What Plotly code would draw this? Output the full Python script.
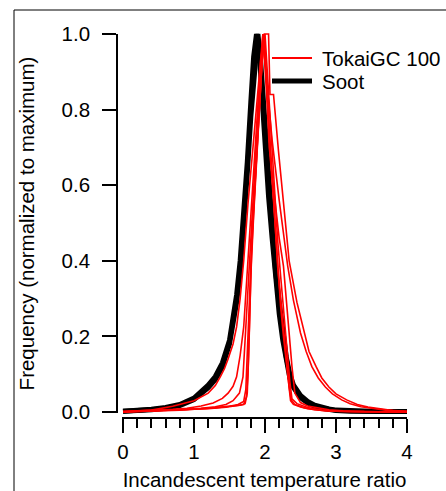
import plotly.graph_objects as go

# Incandescent temperature ratio histograms, normalized to their maxima

# Soot reference distributions
soot_a_x = [0, 0.2, 0.4, 0.6, 0.8, 1.0, 1.1, 1.2, 1.3, 1.4, 1.5, 1.55, 1.6, 1.65, 1.7, 1.75, 1.8, 1.85,
            1.87, 1.9, 1.93, 1.96, 2.0, 2.05, 2.1, 2.15, 2.2, 2.25, 2.3, 2.35, 2.4, 2.5, 2.6, 2.7, 2.8,
            2.9, 3.0, 3.2, 3.4, 3.6, 3.8, 4.0]
soot_a_y = [0.002, 0.003, 0.006, 0.010, 0.017, 0.033, 0.047, 0.064, 0.086, 0.12, 0.18, 0.23, 0.29, 0.37,
            0.49, 0.63, 0.78, 0.91, 0.96, 1.0, 0.95, 0.87, 0.74, 0.61, 0.50, 0.37, 0.29, 0.21, 0.145,
            0.10, 0.072, 0.044, 0.028, 0.018, 0.012, 0.008, 0.005, 0.003, 0.002, 0.001, 0.001, 0.001]

soot_b_x = [0, 0.2, 0.4, 0.6, 0.8, 1.0, 1.1, 1.2, 1.3, 1.4, 1.5, 1.55, 1.6, 1.65, 1.7, 1.75, 1.8, 1.84,
            1.88, 1.92, 1.96, 2.0, 2.05, 2.1, 2.15, 2.2, 2.25, 2.3, 2.35, 2.4, 2.5, 2.6, 2.7, 2.8, 2.9,
            3.0, 3.2, 3.4, 3.6, 3.8, 4.0]
soot_b_y = [0.002, 0.004, 0.007, 0.012, 0.020, 0.037, 0.052, 0.071, 0.094, 0.13, 0.19, 0.245, 0.31, 0.40,
            0.52, 0.66, 0.82, 0.94, 1.0, 0.95, 0.83, 0.70, 0.57, 0.46, 0.34, 0.26, 0.19, 0.13, 0.09,
            0.065, 0.038, 0.024, 0.015, 0.010, 0.006, 0.004, 0.002, 0.001, 0.001, 0.001, 0.001]

# TokaiGC 100 distributions
tokai_1_x = [0, 0.4, 0.7, 0.9, 1.1, 1.27, 1.4, 1.48, 1.55, 1.6, 1.65, 1.7, 1.76, 1.82, 1.88, 1.94, 1.99,
             2.05, 2.07, 2.12, 2.19, 2.26, 2.34, 2.45, 2.55, 2.62, 2.72, 2.8, 2.9, 3.0, 3.15, 3.3, 3.45,
             3.6, 3.8, 4.0]
tokai_1_y = [0.001, 0.004, 0.007, 0.010, 0.016, 0.024, 0.036, 0.050, 0.068, 0.093, 0.15, 0.225, 0.40,
             0.58, 0.77, 0.93, 1.0, 1.0, 0.84, 0.84, 0.69, 0.55, 0.40, 0.29, 0.21, 0.16, 0.12, 0.09,
             0.066, 0.048, 0.032, 0.02, 0.013, 0.009, 0.004, 0.002]

tokai_2_x = [0, 0.4, 0.7, 1.0, 1.2, 1.3, 1.37, 1.43, 1.48, 1.55, 1.6, 1.65, 1.7, 1.76, 1.84, 1.9, 1.97,
             2.03, 2.1, 2.2, 2.32, 2.4, 2.5, 2.58, 2.66, 2.75, 2.85, 2.95, 3.08, 3.2, 3.35, 3.5, 3.7, 4.0]
tokai_2_y = [0.001, 0.005, 0.015, 0.03, 0.05, 0.07, 0.093, 0.115, 0.14, 0.18, 0.225, 0.30, 0.40, 0.55,
             0.72, 0.86, 1.0, 0.86, 0.72, 0.56, 0.386, 0.296, 0.209, 0.16, 0.12, 0.09, 0.066, 0.048,
             0.032, 0.022, 0.014, 0.01, 0.005, 0.002]

tokai_3_x = [0, 0.3, 0.6, 0.9, 1.1, 1.3, 1.45, 1.55, 1.64, 1.69, 1.73, 1.78, 1.83, 1.88, 1.93, 1.97,
             2.02, 2.06, 2.14, 2.2, 2.26, 2.3, 2.33, 2.38, 2.42, 2.5, 2.6, 2.75, 2.9, 3.1, 3.4, 4.0]
tokai_3_y = [0.0, 0.002, 0.004, 0.007, 0.010, 0.014, 0.02, 0.03, 0.05, 0.093, 0.225, 0.40, 0.58, 0.72,
             0.88, 1.0, 0.85, 0.70, 0.56, 0.46, 0.386, 0.296, 0.209, 0.12, 0.05, 0.025, 0.016, 0.01,
             0.006, 0.003, 0.001, 0.0]

tokai_4_x = [0, 0.3, 0.8, 1.2, 1.5, 1.65, 1.72, 1.75, 1.77, 1.79, 1.81, 1.86, 1.9, 1.95, 1.99, 2.04,
             2.08, 2.12, 2.16, 2.19, 2.22, 2.26, 2.3, 2.33, 2.36, 2.4, 2.5, 2.6, 2.8, 3.0, 3.5, 4.0]
tokai_4_y = [0.0, 0.002, 0.005, 0.01, 0.015, 0.018, 0.022, 0.05, 0.15, 0.30, 0.42, 0.60, 0.74, 0.90,
             1.0, 0.80, 0.66, 0.56, 0.44, 0.35, 0.28, 0.20, 0.13, 0.07, 0.03, 0.02, 0.013, 0.009,
             0.004, 0.002, 0.001, 0.0]

tokai_5_x = [0, 0.4, 0.9, 1.2, 1.45, 1.6, 1.7, 1.74, 1.76, 1.78, 1.8, 1.84, 1.89, 1.94, 1.98, 2.02,
             2.07, 2.11, 2.15, 2.18, 2.22, 2.27, 2.31, 2.34, 2.37, 2.42, 2.55, 2.7, 2.9, 3.2, 4.0]
tokai_5_y = [0.0, 0.003, 0.006, 0.009, 0.013, 0.016, 0.02, 0.04, 0.10, 0.225, 0.36, 0.52, 0.70, 0.87,
             1.0, 0.88, 0.72, 0.60, 0.48, 0.38, 0.30, 0.209, 0.12, 0.066, 0.032, 0.02, 0.011, 0.006,
             0.003, 0.001, 0.0]

tokai_6_x = [0, 0.5, 1.0, 1.3, 1.5, 1.62, 1.7, 1.73, 1.76, 1.79, 1.82, 1.87, 1.92, 1.96, 2.0, 2.05,
             2.1, 2.14, 2.18, 2.22, 2.25, 2.28, 2.32, 2.35, 2.38, 2.45, 2.6, 2.8, 3.0, 3.5, 4.0]
tokai_6_y = [0.001, 0.004, 0.008, 0.011, 0.015, 0.02, 0.028, 0.06, 0.20, 0.36, 0.48, 0.64, 0.80, 0.93,
             1.0, 0.84, 0.68, 0.56, 0.45, 0.36, 0.296, 0.22, 0.15, 0.08, 0.035, 0.022, 0.012, 0.005,
             0.002, 0.001, 0.0]

x_ticks = [0, 1, 2, 3, 4]
x_tick_text = ["0", "1", "2", "3", "4"]
y_ticks = [0.0, 0.2, 0.4, 0.6, 0.8, 1.0]
y_tick_text = ["0.0", "0.2", "0.4", "0.6", "0.8", "1.0"]

legend_labels = ["TokaiGC 100", "Soot"]
x_title = "Incandescent temperature ratio"
y_title = "Frequency (normalized to maximum)"

FONT = "Arial, Liberation Sans, Helvetica, sans-serif"
FS = 20.5
RED = "#ff0000"
BLACK = "#000000"

# pixel geometry of the plotting frame
W, H = 446, 491
L, R, T, B = 117, 39, 24, 73          # paper area: x 117..407, y 24..418
PW, PH = W - L - R, H - T - B
X0_PX, X_PER_UNIT = 123.0, 71.0       # x = 0 position and pixels per unit
Y0_PX, Y_PER_UNIT = 412.0, 378.0      # y = 0 position and pixels per unit


def px_to_x(px):
    return (px - X0_PX) / X_PER_UNIT


def px_to_y(py):
    return (Y0_PX - py) / Y_PER_UNIT


def paper_x(px):
    return (px - L) / PW


def paper_y(py):
    return (T + PH - py) / PH


fig = go.Figure()

for sx, sy in [(soot_a_x, soot_a_y), (soot_b_x, soot_b_y)]:
    fig.add_trace(go.Scatter(x=sx, y=sy, mode="lines", line=dict(color=BLACK, width=5),
                             showlegend=False, hoverinfo="skip"))

for tx, ty in [(tokai_1_x, tokai_1_y), (tokai_2_x, tokai_2_y), (tokai_3_x, tokai_3_y),
               (tokai_4_x, tokai_4_y), (tokai_5_x, tokai_5_y), (tokai_6_x, tokai_6_y)]:
    fig.add_trace(go.Scatter(x=tx, y=ty, mode="lines", line=dict(color=RED, width=1.6),
                             showlegend=False, hoverinfo="skip"))

# carrier trace for the visible, offset axes (Igor-style axis standoff)
fig.add_trace(go.Scatter(x=[], y=[], xaxis="x2", yaxis="y2", showlegend=False, hoverinfo="skip"))

axis_font = dict(family=FONT, size=FS, color=BLACK)

fig.update_layout(
    template="none",
    width=W, height=H, autosize=False,
    margin=dict(l=L, r=R, t=T, b=B, pad=0, autoexpand=False),
    paper_bgcolor="white", plot_bgcolor="rgba(0,0,0,0)",
    showlegend=False,
    xaxis=dict(domain=[0, 1], range=[px_to_x(L), px_to_x(L + PW)], visible=False,
               fixedrange=True, automargin=False),
    yaxis=dict(domain=[0, 1], range=[px_to_y(T + PH), px_to_y(T)], visible=False,
               fixedrange=True, automargin=False),
    xaxis2=dict(
        anchor="free", position=0, automargin=False,
        domain=[paper_x(122), 1], range=[px_to_x(122), 4], fixedrange=True,
        showline=True, linecolor=BLACK, linewidth=1.6, showgrid=False, zeroline=False,
        tickmode="array", tickvals=x_ticks, ticktext=x_tick_text,
        ticks="outside", ticklen=14, tickwidth=1.6, tickcolor=BLACK,
        minor=dict(dtick=0.2, ticks="outside", ticklen=9, tickwidth=1.6, tickcolor=BLACK, showgrid=False),
        tickfont=axis_font, ticklabelstandoff=2,
        title=dict(text=x_title, font=axis_font, standoff=20),
    ),
    yaxis2=dict(
        anchor="free", position=0, side="left", automargin=False,
        domain=[paper_y(413), paper_y(34)], range=[px_to_y(413), 1.0], fixedrange=True,
        showline=True, linecolor=BLACK, linewidth=1.6, showgrid=False, zeroline=False,
        tickmode="array", tickvals=y_ticks, ticktext=y_tick_text,
        ticks="outside", ticklen=14, tickwidth=1.6, tickcolor=BLACK,
        tickfont=axis_font, ticklabelstandoff=8,
        title=dict(text=y_title, font=axis_font, standoff=20),
    ),
)

# outer frame
fig.add_shape(type="rect", xref="paper", yref="paper",
              x0=paper_x(14), y0=paper_y(520), x1=paper_x(470), y1=paper_y(10),
              line=dict(color=BLACK, width=1))

# legend keys
legend_rows = [(58, RED, 1.8, legend_labels[0]), (81, BLACK, 5, legend_labels[1])]
for py, col, lw, label in legend_rows:
    fig.add_shape(type="line", xref="paper", yref="paper",
                  x0=paper_x(272), x1=paper_x(312), y0=paper_y(py), y1=paper_y(py),
                  line=dict(color=col, width=lw))
    fig.add_annotation(xref="paper", yref="paper", x=paper_x(320), y=paper_y(py),
                       xanchor="left", yanchor="middle", text=label, showarrow=False,
                       font=dict(family=FONT, size=FS, color=BLACK))

fig.write_html("out.html")
